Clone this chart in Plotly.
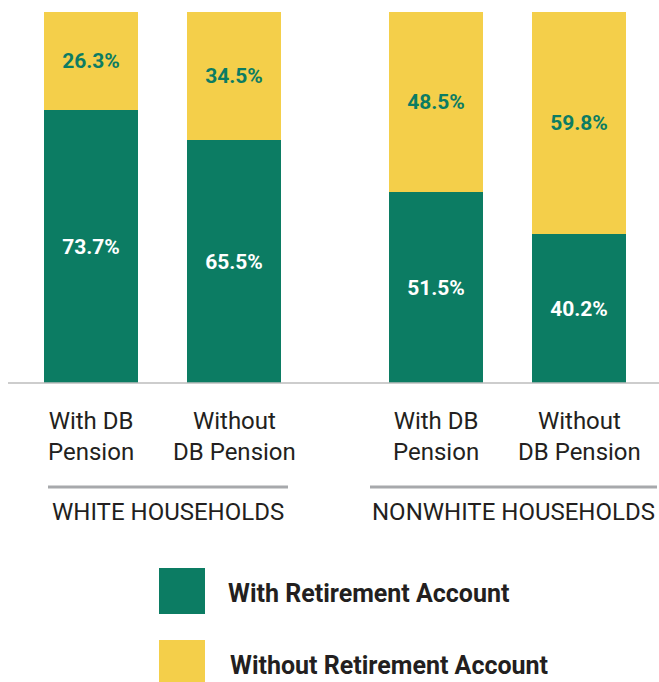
import plotly.graph_objects as go

# Share of households with / without a retirement account, by DB pension status
groups = ["WHITE HOUSEHOLDS", "NONWHITE HOUSEHOLDS"]
categories = ["With DB<br>Pension", "Without<br>DB Pension",
              "With DB<br>Pension", "Without<br>DB Pension"]
with_account = [73.7, 65.5, 51.5, 40.2]
without_account = [26.3, 34.5, 48.5, 59.8]
series_names = ["With Retirement Account", "Without Retirement Account"]

GREEN = "#0c7c63"
YELLOW = "#f4cf4a"
GRAY = "#a7a9ac"
TEXT = "#231f20"
FONT = "Roboto"

W, H = 659, 682

# bar positions: two bars per group, extra gap between groups
group_gap = 0.413
xpos = [i + (i // 2) * group_gap for i in range(len(categories))]


def py(p):
    """Pixel row (from top) to paper y."""
    return 1 - p / H


fig = go.Figure()
fig.add_trace(go.Bar(
    x=xpos, y=with_account, name=series_names[0], width=0.657,
    marker=dict(color=GREEN, line=dict(width=0)),
    texttemplate="%{y:.1f}%", textposition="inside", insidetextanchor="middle",
    textangle=0, textfont=dict(color="white", size=21, family=FONT, weight="bold"),
    showlegend=False,
))
fig.add_trace(go.Bar(
    x=xpos, y=without_account, name=series_names[1], width=0.657,
    marker=dict(color=YELLOW, line=dict(width=0)),
    texttemplate="%{y:.1f}%", textposition="inside", insidetextanchor="middle",
    textangle=0, textfont=dict(color=GREEN, size=21, family=FONT, weight="bold"),
    showlegend=False,
))

shapes = []
annotations = []

# baseline
shapes.append(dict(type="line", xref="paper", yref="paper",
                   x0=8 / W, x1=1, y0=py(383), y1=py(383),
                   line=dict(color="#bdbdbd", width=1.5)))

# category labels under each bar
for x, c in zip(xpos, categories):
    annotations.append(dict(x=x, xref="x", y=py(436), yref="paper",
                            text=c, showarrow=False, xanchor="center", yanchor="middle",
                            font=dict(size=24, color=TEXT, family=FONT)))

# group separators and group labels
group_spans = [(48, 288), (370, 657)]
for g, (a, b) in zip(groups, group_spans):
    shapes.append(dict(type="line", xref="paper", yref="paper",
                       x0=a / W, x1=b / W, y0=py(487), y1=py(487),
                       line=dict(color=GRAY, width=3)))
    annotations.append(dict(x=(a + b) / 2 / W, xref="paper", y=py(512), yref="paper",
                            text=g, showarrow=False, xanchor="center", yanchor="middle",
                            font=dict(size=24, color=TEXT, family=FONT)))

# legend swatches and labels
legend_rows = [(568, GREEN, series_names[0], 226), (640, YELLOW, series_names[1], 228)]
for top, col, name, tx in legend_rows:
    shapes.append(dict(type="rect", xref="paper", yref="paper",
                       x0=159 / W, x1=205 / W, y0=py(top + 46), y1=py(top),
                       fillcolor=col, line=dict(width=0)))
    annotations.append(dict(x=tx / W, xref="paper", y=py(top + 25), yref="paper",
                            text="<b>" + name + "</b>", showarrow=False,
                            xanchor="left", yanchor="middle",
                            font=dict(size=25, color=TEXT, family=FONT)))

u = 143.0  # pixels per x unit
fig.update_layout(
    width=W, height=H, margin=dict(l=0, r=0, t=0, b=0),
    paper_bgcolor="white", plot_bgcolor="white",
    barmode="stack", bargap=0,
    xaxis=dict(range=[-91 / u, (W - 91) / u], domain=[0, 1], visible=False, fixedrange=True),
    yaxis=dict(range=[0, 100], domain=[py(383), py(12)], visible=False, fixedrange=True),
    shapes=shapes, annotations=annotations,
    font=dict(family=FONT, color=TEXT),
)

fig.write_html("out.html")
